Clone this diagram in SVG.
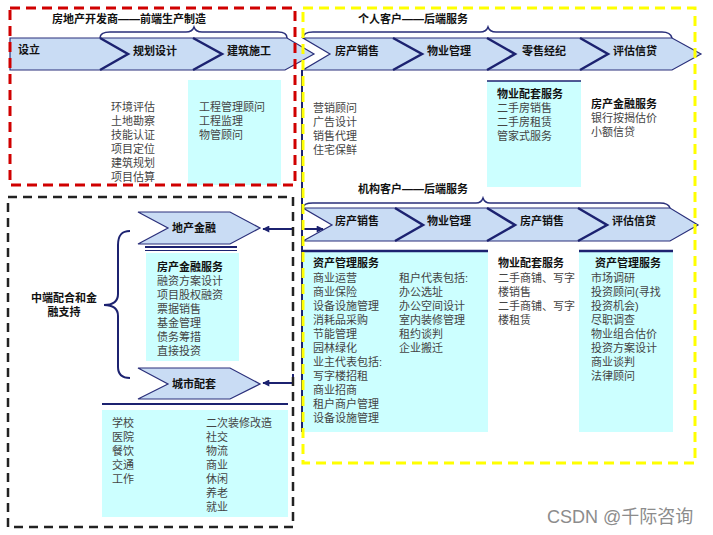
<svg xmlns="http://www.w3.org/2000/svg" width="713" height="535" viewBox="0 0 713 535">
<style>
text{font-family:"Liberation Sans","Noto Sans CJK SC",sans-serif;font-size:11px;fill:#444}
.h{font-weight:bold;fill:#111}
.lbl{font-weight:bold;fill:#111;font-size:11px}
.band{fill:#c9dcf4;stroke:#2a2f7a;stroke-width:1.2}
.sep{fill:none;stroke:#1c2270;stroke-width:2.5;stroke-linejoin:miter}
.brace{fill:none;stroke:#2a2f7a;stroke-width:1.5}
.cyan{fill:#ccffff}
.nv{stroke:#1c2270;fill:none}
.wm{font-family:"Liberation Sans","Noto Sans CJK SC",sans-serif;font-size:18px;fill:#8c8c8c}
</style>
<defs>
<marker id="ah" viewBox="0 0 10 10" refX="9" refY="5" markerWidth="8" markerHeight="7" markerUnits="userSpaceOnUse" orient="auto">
<path d="M0,0 L10,5 L0,10 z" fill="#1c2270"/>
</marker>
</defs>
<rect width="713" height="535" fill="#fff"/>

<g id="developer">
<polygon class="band" points="10,38 287,38 314,54 285,70 10,70"/>
<polyline class="sep" points="100,38 128,54 100,70"/>
<polyline class="sep" points="193,38 222,54 193,70"/>
<path class="brace" d="M100,38 C100,33 104,32 110,32 L186,32 C191,32 193,30 194,27 C195,30 197,32 202,32 L278,32 C284,32 287,34 287,38"/>
<text class="h" x="52" y="23">房地产开发商——前端生产制造</text>
<text class="lbl" x="18" y="54">设立</text>
<text class="lbl" x="133" y="55">规划设计</text>
<text class="lbl" x="227" y="55">建筑施工</text>
<text x="111" y="111">环境评估</text>
<text x="111" y="125">土地勘察</text>
<text x="111" y="139">技能认证</text>
<text x="111" y="153">项目定位</text>
<text x="111" y="167">建筑规划</text>
<text x="111" y="181">项目估算</text>
<rect class="cyan" x="188" y="80" width="93" height="105"/>
<text x="199" y="111">工程管理顾问</text>
<text x="199" y="125">工程监理</text>
<text x="199" y="139">物管顾问</text>
</g>

<g id="personal">
<polygon class="band" points="303,38 672,38 701,54 672,70 303,70 330,54"/>
<polyline class="sep" points="393,38 422,54 393,70"/>
<polyline class="sep" points="487,38 515,54 487,70"/>
<polyline class="sep" points="580,38 608,54 580,70"/>
<path class="brace" d="M303,38 C303,34 307,32 313,32 L480,32 C485,32 487,30 488,27 C489,30 491,32 496,32 L662,32 C668,32 671,34 672,38"/>
<text class="h" x="358" y="23">个人客户——后端服务</text>
<text class="lbl" x="335" y="55">房产销售</text>
<text class="lbl" x="427" y="55">物业管理</text>
<text class="lbl" x="522" y="55">零售经纪</text>
<text class="lbl" x="613" y="55">评估信贷</text>
<text x="313" y="112">营销顾问</text>
<text x="313" y="126">广告设计</text>
<text x="313" y="140">销售代理</text>
<text x="313" y="154">住宅保鲜</text>
<rect class="cyan" x="487" y="81" width="94" height="106"/>
<line class="nv" x1="487" y1="81" x2="581" y2="81" stroke-width="1.5"/>
<text class="h" x="497" y="98">物业配套服务</text>
<text x="497" y="112">二手房销售</text>
<text x="497" y="126">二手房租赁</text>
<text x="497" y="140">管家式服务</text>
<text class="h" x="591" y="108">房产金融服务</text>
<text x="591" y="122">银行按揭估价</text>
<text x="591" y="136">小额信贷</text>
</g>

<g id="institutional">
<polygon class="band" points="303,208 670,208 698,225 670,241 303,241 332,225"/>
<polyline class="sep" points="395,208 423,225 395,241"/>
<polyline class="sep" points="487,208 515,225 487,241"/>
<polyline class="sep" points="578,208 607,225 578,241"/>
<path class="brace" d="M303,208 C303,205 307,203 313,203 L476,203 C480,203 482,201 483,198 C484,201 486,203 490,203 L660,203 C666,203 669,205 670,208"/>
<text class="h" x="358" y="193">机构客户——后端服务</text>
<text class="lbl" x="335" y="225">房产销售</text>
<text class="lbl" x="427" y="225">物业管理</text>
<text class="lbl" x="520" y="225">房产销售</text>
<text class="lbl" x="612" y="225">评估信贷</text>
<rect class="cyan" x="303" y="251" width="185" height="181"/>
<line class="nv" x1="303" y1="251" x2="488" y2="251" stroke-width="2.5"/>
<text class="h" x="313" y="267">资产管理服务</text>
<text x="313" y="282">商业运营</text>
<text x="313" y="296">商业保险</text>
<text x="313" y="310">设备设施管理</text>
<text x="313" y="324">消耗品采购</text>
<text x="313" y="338">节能管理</text>
<text x="313" y="352">园林绿化</text>
<text x="313" y="366">业主代表包括:</text>
<text x="313" y="380">写字楼招租</text>
<text x="313" y="394">商业招商</text>
<text x="313" y="408">租户商户管理</text>
<text x="313" y="422">设备设施管理</text>
<text x="399" y="282">租户代表包括:</text>
<text x="399" y="296">办公选址</text>
<text x="399" y="310">办公空间设计</text>
<text x="399" y="324">室内装修管理</text>
<text x="399" y="338">租约谈判</text>
<text x="399" y="352">企业搬迁</text>
<text class="h" x="498" y="267">物业配套服务</text>
<text x="498" y="282">二手商铺、写字</text>
<text x="498" y="296">楼销售</text>
<text x="498" y="310">二手商铺、写字</text>
<text x="498" y="324">楼租赁</text>
<rect class="cyan" x="579" y="251" width="94" height="181"/>
<line class="nv" x1="579" y1="251" x2="673" y2="251" stroke-width="2.5"/>
<text class="h" x="595" y="267">资产管理服务</text>
<text x="591" y="282">市场调研</text>
<text x="591" y="296">投资顾问(寻找</text>
<text x="591" y="310">投资机会)</text>
<text x="591" y="324">尽职调查</text>
<text x="591" y="338">物业组合估价</text>
<text x="591" y="352">投资方案设计</text>
<text x="591" y="366">商业谈判</text>
<text x="591" y="380">法律顾问</text>
</g>

<g id="midend">
<path class="nv" stroke-width="2" d="M130,231 C121,231 118,236 118,245 L118,294 C118,301 113,305 104,305 C113,305 118,309 118,316 L118,367 C118,374 121,378 130,378"/>
<text class="h" x="64" y="302" text-anchor="middle">中端配合和金</text>
<text class="h" x="64" y="316" text-anchor="middle">融支持</text>
</g>

<g id="realty-finance">
<polygon class="band" stroke-width="1.5" points="138,212 230,212 260,228 230,244 138,244 168,228"/>
<text class="lbl" x="172" y="232">地产金融</text>
<line class="nv" x1="145" y1="247" x2="237" y2="247" stroke-width="2"/>
<line class="nv" x1="145" y1="250.5" x2="237" y2="250.5" stroke-width="1"/>
<rect class="cyan" x="146" y="253" width="93" height="108"/>
<text class="h" x="157" y="271">房产金融服务</text>
<text x="157" y="285">融资方案设计</text>
<text x="157" y="299">项目股权融资</text>
<text x="157" y="313">票据销售</text>
<text x="157" y="327">基金管理</text>
<text x="157" y="341">债务筹措</text>
<text x="157" y="355">直接投资</text>
</g>

<g id="city">
<polygon class="band" stroke-width="1.5" points="138,368 230,368 260,384 230,399 138,399 168,384"/>
<text class="lbl" x="172" y="388">城市配套</text>
<line class="nv" x1="102" y1="404" x2="288" y2="404" stroke-width="2"/>
<rect class="cyan" x="102" y="410" width="186" height="107"/>
<text x="112" y="427">学校</text>
<text x="112" y="441">医院</text>
<text x="112" y="455">餐饮</text>
<text x="112" y="469">交通</text>
<text x="112" y="483">工作</text>
<text x="206" y="427">二次装修改造</text>
<text x="206" y="441">社交</text>
<text x="206" y="455">物流</text>
<text x="206" y="469">商业</text>
<text x="206" y="483">休闲</text>
<text x="206" y="497">养老</text>
<text x="206" y="511">就业</text>
</g>

<g id="connectors">
<line class="nv" x1="302" y1="70" x2="302" y2="432" stroke-width="2"/>
<line class="nv" x1="302" y1="229" x2="323" y2="229" stroke-width="2" marker-end="url(#ah)"/>
<line class="nv" x1="293" y1="229" x2="263" y2="229" stroke-width="2" marker-end="url(#ah)"/>
<polyline class="nv" points="293,374 293,383 263,383" stroke-width="2" marker-end="url(#ah)"/>
</g>

<g id="frames" fill="none">
<rect x="10" y="8" width="285" height="177" stroke="#d00000" stroke-width="3" stroke-dasharray="10 6"/>
<rect x="303" y="8" width="392" height="455" stroke="#ffff00" stroke-width="3" stroke-dasharray="10 6"/>
<rect x="8" y="197" width="285" height="330" stroke="#222" stroke-width="2.5" stroke-dasharray="9 6"/>
</g>

<text class="wm" x="547" y="523">CSDN @千际咨询</text>
</svg>
